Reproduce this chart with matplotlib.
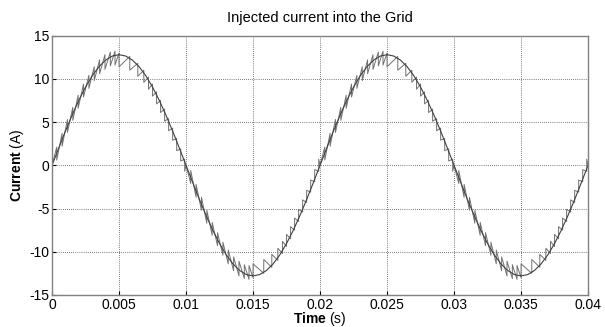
import numpy as np
import matplotlib
matplotlib.use("Agg")
import matplotlib.pyplot as plt

plt.rcParams['font.family'] = ['Liberation Sans', 'DejaVu Sans']
plt.rcParams['mathtext.fontset'] = 'custom'
plt.rcParams['mathtext.rm'] = 'Liberation Sans'
plt.rcParams['mathtext.bf'] = 'Liberation Sans:bold'
plt.rcParams['axes.unicode_minus'] = False

# reference sine (A), sampled every 0.5 ms from 0 to 40 ms
ref_t_ms = np.arange(0, 40.5, 0.5)
ref_i = [0.0, 2.0, 3.96, 5.81, 7.52, 9.05, 10.36, 11.4, 12.17, 12.64,
         12.8, 12.64, 12.17, 11.4, 10.36, 9.05, 7.52, 5.81, 3.96, 2.0,
         0.0, -2.0, -3.96, -5.81, -7.52, -9.05, -10.36, -11.4, -12.17, -12.64,
         -12.8, -12.64, -12.17, -11.4, -10.36, -9.05, -7.52, -5.81, -3.96, -2.0,
         0.0, 2.0, 3.96, 5.81, 7.52, 9.05, 10.36, 11.4, 12.17, 12.64,
         12.8, 12.64, 12.17, 11.4, 10.36, 9.05, 7.52, 5.81, 3.96, 2.0,
         0.0, -2.0, -3.96, -5.81, -7.52, -9.05, -10.36, -11.4, -12.17, -12.64,
         -12.8, -12.64, -12.17, -11.4, -10.36, -9.05, -7.52, -5.81, -3.96, -2.0,
         0.0]

# injected current: switching instants (ms), value before and after each switch (A)
sw_t_pos = [0.35, 0.75, 1.15, 1.55, 1.95, 2.35, 2.75, 3.15, 3.55, 3.95, 4.35, 4.7,
            5.0, 5.8, 6.4, 6.85, 7.2, 7.5, 7.8, 8.1, 8.4, 8.7, 9.0, 9.3, 9.6, 9.9]
sw_a_pos = [2.1, 3.7, 5.3, 6.7, 8.1, 9.4, 10.4, 11.4, 12.2, 12.8, 13.1, 13.2,
            13.0, 12.6, 11.8, 11.0, 10.2, 9.4, 8.5, 7.5, 6.5, 5.4, 4.3, 3.1, 1.9, 0.7]
sw_b_pos = [0.6, 2.2, 3.8, 5.2, 6.6, 7.9, 8.9, 9.8, 10.6, 11.1, 11.5, 11.6,
            11.4, 11.0, 10.3, 9.6, 8.8, 8.0, 7.1, 6.1, 5.1, 4.0, 2.9, 1.7, 0.5, -0.7]

sw_t_neg = [10.35, 10.75, 11.15, 11.55, 11.95, 12.35, 12.75, 13.15, 13.55, 13.95, 14.35, 14.7,
            15.0, 15.8, 16.4, 16.85, 17.2, 17.5, 17.8, 18.1, 18.4, 18.7, 19.0, 19.3, 19.6, 19.9]
sw_a_neg = [-2.1, -3.7, -5.2, -6.7, -8.1, -9.3, -10.4, -11.4, -12.2, -12.8, -13.1, -13.2,
            -13.0, -12.5, -11.8, -11.0, -10.2, -9.4, -8.5, -7.5, -6.5, -5.4, -4.3, -3.1, -1.9, -0.7]
sw_b_neg = [-0.6, -2.2, -3.7, -5.2, -6.6, -7.8, -8.9, -9.8, -10.6, -11.1, -11.5, -11.6,
            -11.4, -10.9, -10.3, -9.6, -8.8, -8.0, -7.1, -6.1, -5.1, -4.0, -2.9, -1.7, -0.5, 0.7]

period_ms = 20.0


def half_wave(t0, sw_t, sw_a, sw_b):
    ts, vs = [t0], [0.0]
    for t, a, b in zip(sw_t, sw_a, sw_b):
        ts += [t, t]
        vs += [a, b]
    return ts, vs


t1, v1 = half_wave(0.0, sw_t_pos, sw_a_pos, sw_b_pos)
t2, v2 = half_wave(10.0, sw_t_neg, sw_a_neg, sw_b_neg)
cyc_t = np.array(t1 + t2)
cyc_v = np.array(v1 + v2)
inj_t_ms = np.concatenate([cyc_t, cyc_t + period_ms, [40.0]])
inj_i = np.concatenate([cyc_v, cyc_v, [0.0]])

fig = plt.figure(figsize=(6.05, 3.27), dpi=100)
ax = fig.add_axes([0.086, 0.098, 0.886, 0.793])

ax.plot(inj_t_ms / 1000.0, inj_i, color='#707070', lw=0.7)
ax.plot(ref_t_ms / 1000.0, ref_i, color='#404040', lw=0.8)

ax.set_xlim(0, 0.04)
ax.set_ylim(-15, 15)
ax.set_xticks([0, 0.005, 0.01, 0.015, 0.02, 0.025, 0.03, 0.035, 0.04])
ax.set_xticklabels(['0', '0.005', '0.01', '0.015', '0.02', '0.025', '0.03', '0.035', '0.04'])
ax.set_yticks([-15, -10, -5, 0, 5, 10, 15])
ax.grid(True, color='black', linestyle=(0, (1, 2)), lw=0.5)
ax.tick_params(direction='in', length=3, labelsize=10, colors='black', pad=2)
for s in ax.spines.values():
    s.set_color('#808080')
    s.set_linewidth(1.0)

ax.set_title('Injected current into the Grid', fontsize=10.5, pad=10)
ax.set_xlabel(r'$\bf{Time}$ (s)', fontsize=10, labelpad=-1)
ax.set_ylabel(r'$\bf{Current}$ (A)', fontsize=10, labelpad=2)

fig.savefig('out.png', dpi=100, facecolor='white')
